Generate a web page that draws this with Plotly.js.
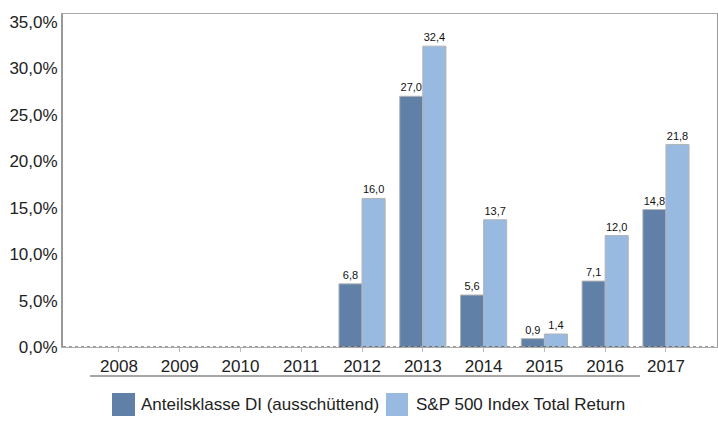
<!DOCTYPE html>
<html><head><meta charset="utf-8">
<script src="https://cdn.plot.ly/plotly-3.0.1.min.js"></script>
<style>html,body{margin:0;padding:0;background:#fff}#chart{width:718px;height:430px}</style>
</head><body><div id="chart"></div>
<script>
const years = ['2008','2009','2010','2011','2012','2013','2014','2015','2016','2017'];
const fundValues = [null,null,null,null,6.8,27.0,5.6,0.9,7.1,14.8];
const indexValues = [null,null,null,null,16.0,32.4,13.7,1.4,12.0,21.8];
const seriesNames = ['Anteilsklasse DI (ausschüttend)','S&P 500 Index Total Return'];
const colors = ['#6080A8','#98B9E0'];
const yTicks = [0,5,10,15,20,25,30,35];
const yTickLabels = ['0,0%','5,0%','10,0%','15,0%','20,0%','25,0%','30,0%','35,0%'];

const font = '"Liberation Sans", Arial, sans-serif';
function bar(vals, i){
  return {type:'bar', x:years, y:vals, name:seriesNames[i],
    marker:{color:colors[i], line:{color:'#b4b4b4', width:1}},
    texttemplate:'%{y:.1f}', textposition:'outside', cliponaxis:false,
    textfont:{family:font, size:11, color:'#111'}, hoverinfo:'skip'};
}
const data = [bar(fundValues,0), bar(indexValues,1)];
const layout = {
  width:718, height:430, margin:{l:63,r:1,t:14,b:83},
  paper_bgcolor:'#fff', plot_bgcolor:'#fff', showlegend:false,
  separators:',.', barmode:'group', bargap:0.24, bargroupgap:0,
  font:{family:font, size:17, color:'#222'},
  xaxis:{type:'category', range:[-0.92,9.84], showgrid:false, showline:true, linecolor:'#aaa', linewidth:1,
    mirror:true, ticks:'outside', ticklen:4, tickcolor:'#bbb', tickfont:{family:font,size:17,color:'#222'}},
  yaxis:{range:[0,35.86], tickmode:'array', tickvals:yTicks, ticktext:yTickLabels, showgrid:false, zeroline:false,
    showline:true, linecolor:'#999', linewidth:2, mirror:true, ticks:'', tickfont:{family:font,size:17,color:'#222'}},
  shapes:[
    {type:'line', xref:'paper', yref:'y', x0:0, x1:1, y0:0, y1:0, line:{color:'#333', width:1, dash:'dot'}},
    {type:'line', xref:'paper', yref:'paper', x0:(90-63)/654, x1:(640-63)/654, y0:-(376-347)/333, y1:-(376-347)/333, line:{color:'#888', width:1.5}},
    {type:'rect', xref:'paper', yref:'paper', x0:(112-63)/654, x1:(135-63)/654, y0:-(393-347)/333, y1:-(416-347)/333, fillcolor:colors[0], line:{width:0}},
    {type:'rect', xref:'paper', yref:'paper', x0:(386-63)/654, x1:(408-63)/654, y0:-(393-347)/333, y1:-(416-347)/333, fillcolor:colors[1], line:{width:0}}
  ],
  annotations:[
    {xref:'paper', yref:'paper', x:(139-63)/654, y:-(404.5-347)/333, xanchor:'left', yanchor:'middle', text:seriesNames[0], showarrow:false, font:{family:font,size:17,color:'#222'}},
    {xref:'paper', yref:'paper', x:(414-63)/654, y:-(404.5-347)/333, xanchor:'left', yanchor:'middle', text:seriesNames[1], showarrow:false, font:{family:font,size:17,color:'#222'}}
  ]
};
Plotly.newPlot('chart', data, layout, {staticPlot:true, displayModeBar:false});
</script></body></html>
